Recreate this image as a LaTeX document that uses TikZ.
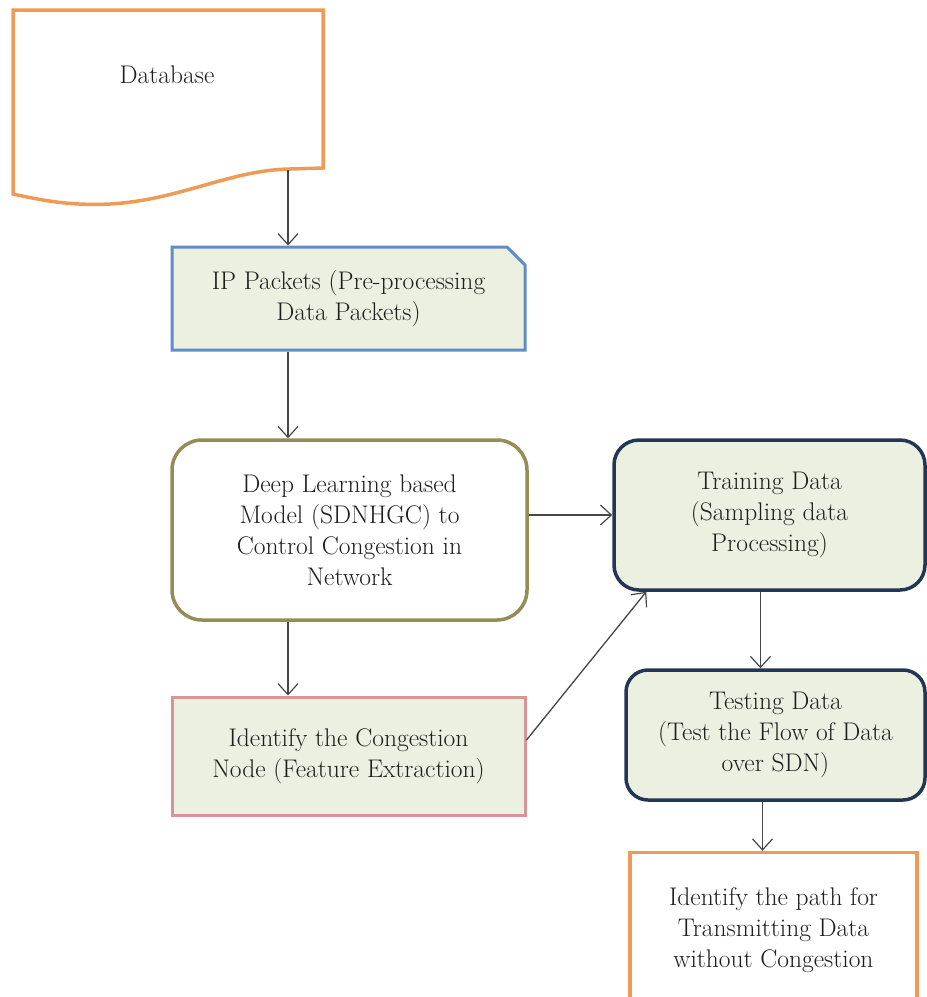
\documentclass[tikz,border=0pt]{standalone}
\usetikzlibrary{arrows.meta, shapes.misc}
\definecolor{dborange}{RGB}{240,155,85}
\definecolor{ipblue}{RGB}{95,140,205}
\definecolor{dlolive}{RGB}{150,140,85}
\definecolor{trnavy}{RGB}{35,55,85}
\definecolor{icpink}{RGB}{215,150,150}
\definecolor{boxfill}{RGB}{235,240,224}
\definecolor{txtgray}{RGB}{30,30,30}
\definecolor{arrgray}{RGB}{70,70,70}
\begin{document}
\begin{tikzpicture}[%
    x=1pt, y=-1pt,
    every node/.style = {align=center, text=txtgray, font=\fontsize{25.5}{31}\selectfont},
    every edge/.style = {draw, arrgray, line width=1.3pt, -{Straight Barb[length=11pt, width=20pt, line width=1.2pt]}},
    stepbox/.style = {draw, rectangle, fill=boxfill, line width=3.5pt}
]
\useasboundingbox (0,0) rectangle (927,997);
% database (document shape)
\draw[dborange, line width=3.5pt, fill=white] (13,10) -- (323,10) -- (323,168) -- (290,169)
    .. controls (230,170) and (180,200) .. (110,204)
    .. controls (70,206) and (40,200) .. (13,194) -- cycle;
\node (db) at (167,75) {Database};
\coordinate (dbout) at (288,170);
\node (ip) [stepbox, draw=ipblue, line width=3pt, chamfered rectangle, chamfered rectangle corners=north east,
    chamfered rectangle sep=9pt, minimum width=353pt, minimum height=103pt, inner sep=0pt]
    at (348.5,298.5) {IP Packets (Pre-processing\\Data Packets)};
\node (dl) [stepbox, draw=dlolive, fill=white, rounded corners=30pt, minimum width=355pt, minimum height=180pt]
    at (349.5,530) {Deep Learning based\\Model (SDNHGC) to\\Control Congestion in\\Network};
\node (ic) [stepbox, draw=icpink, line width=3pt, minimum width=353pt, minimum height=118pt]
    at (348.5,756) {Identify the Congestion\\Node (Feature Extraction)};
\node (tr) [stepbox, draw=trnavy, rounded corners=25pt, minimum width=311pt, minimum height=150pt]
    at (769.5,515) {Training Data\\(Sampling data\\Processing)};
\node (te) [stepbox, draw=trnavy, rounded corners=22pt, minimum width=299pt, minimum height=130pt]
    at (775.5,735) {Testing Data\\(Test the Flow of Data\\over SDN)};
\node (out) [stepbox, draw=dborange, fill=white, minimum width=287pt, minimum height=155pt]
    at (773.5,930) {Identify the path for\\Transmitting Data\\without Congestion};
\path
    (dbout) edge (ip.north -| dbout)
    (ip.south -| dbout) edge (dl.north -| dbout)
    (dl.south -| dbout) edge (ic.north -| dbout)
    (dl.east |- tr.west) edge (tr.west)
    ([yshift=16pt]ic.east) edge ([xshift=34pt]tr.south west)
    ([xshift=-9pt]tr.south) edge ([xshift=-9pt]tr.south |- te.north)
    ([xshift=-13pt]te.south) edge ([xshift=-13pt]te.south |- out.north)
    ;
\end{tikzpicture}
\end{document}
